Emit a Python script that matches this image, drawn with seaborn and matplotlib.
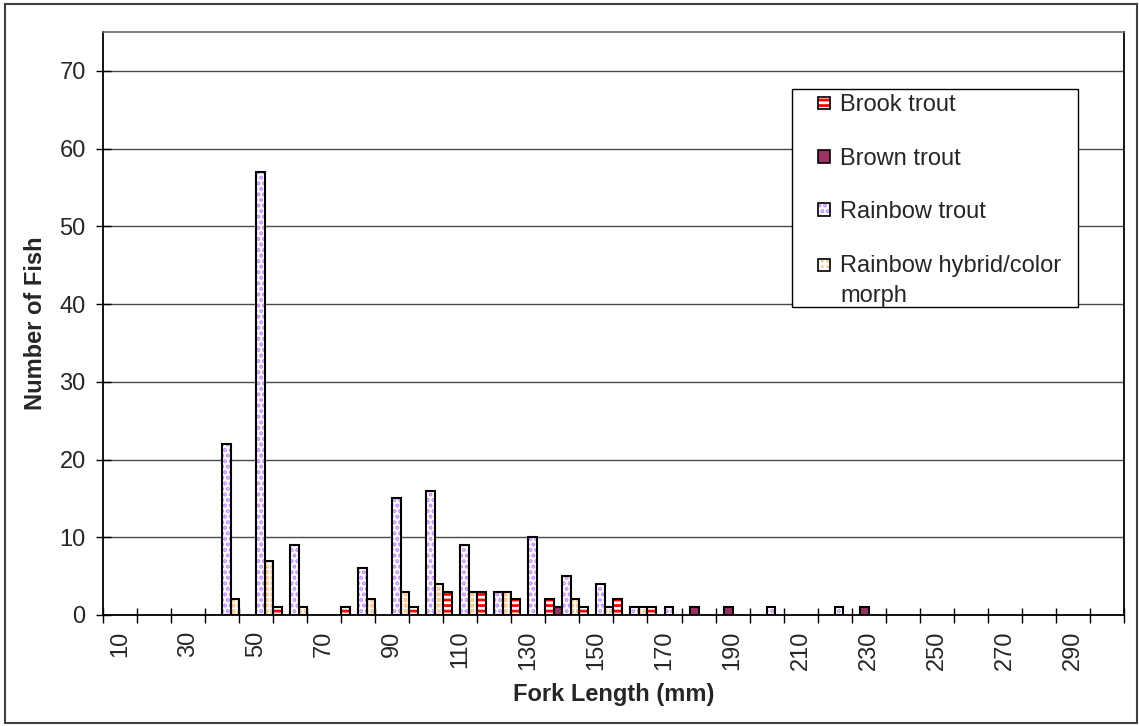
import numpy as np
import pandas as pd
import matplotlib
matplotlib.use("Agg")
import matplotlib.pyplot as plt
import seaborn as sns
from matplotlib.patches import Patch, Rectangle
from matplotlib.legend_handler import HandlerTuple

# fork length classes (mm), 10 .. 300
lengths = [10, 20, 30, 40, 50, 60, 70, 80, 90, 100, 110, 120, 130, 140, 150,
           160, 170, 180, 190, 200, 210, 220, 230, 240, 250, 260, 270, 280, 290, 300]
brook   = [0, 0, 0, 0, 0, 1, 0, 1, 0, 1, 3, 3, 2, 2, 1, 2, 1, 0, 0, 0, 0, 0, 0, 0, 0, 0, 0, 0, 0, 0]
brown   = [0, 0, 0, 0, 0, 0, 0, 0, 0, 0, 0, 0, 0, 1, 0, 0, 0, 1, 1, 0, 0, 0, 1, 0, 0, 0, 0, 0, 0, 0]
rainbow = [0, 0, 0, 22, 57, 9, 0, 6, 15, 16, 9, 3, 10, 5, 4, 1, 1, 0, 0, 1, 0, 1, 0, 0, 0, 0, 0, 0, 0, 0]
hybrid  = [0, 0, 0, 2, 7, 1, 0, 2, 3, 4, 3, 3, 0, 2, 1, 1, 0, 0, 0, 0, 0, 0, 0, 0, 0, 0, 0, 0, 0, 0]
species = ["Brook trout", "Brown trout", "Rainbow trout", "Rainbow hybrid/color\nmorph"]
shown_labels = [10, 30, 50, 70, 90, 110, 130, 150, 170, 190, 210, 230, 250, 270, 290]

# look of each series (fill, hatch, hatch colour, hatch width)
fills   = ["#FF0000", "#993366", "white", "#FFCC99"]
hatches = ["---", None, "...", "+++"]
hcolors = ["white", "#993366", "#C28CFF", "white"]
hwidths = [2.0, 1.0, 2.0, 1.1]

df = pd.DataFrame({
    "length": [str(v) for v in lengths] * 4,
    "count": brook + brown + rainbow + hybrid,
    "species": np.repeat(species, len(lengths)),
})
df = df[df["count"] > 0]
order = [str(v) for v in lengths]

sns.set_style("white")
plt.rcParams['font.family'] = ['Liberation Sans', 'DejaVu Sans']
plt.rcParams['hatch.linewidth'] = 2.0


def style_patch(p, h, hc, hw):
    p.set_hatch(h)
    p.set_edgecolor(hc)
    p.set_linewidth(0)
    if hasattr(p, "set_hatch_linewidth"):
        p.set_hatch_linewidth(hw)


class RaisedTuple(HandlerTuple):
    # put the handle next to the first line of a two-line label
    def create_artists(self, legend, orig_handle, xdescent, ydescent,
                       width, height, fontsize, trans):
        return super().create_artists(legend, orig_handle, xdescent, ydescent - 11.5,
                                      width, height, fontsize, trans)


fig = plt.figure(figsize=(11.39, 7.26), dpi=100)
ax = fig.add_axes([0.0904, 0.1529, 0.8964, 0.8030])

# filled + hatched bars
sns.barplot(data=df, x="length", y="count", hue="species", order=order,
            hue_order=species, palette=fills, width=1.0, saturation=1,
            errorbar=None, linewidth=0, legend=False, ax=ax)
for cont, h, hc, hw in zip(ax.containers, hatches, hcolors, hwidths):
    for bar in cont:
        style_patch(bar, h, hc, hw)
# black outlines
sns.barplot(data=df, x="length", y="count", hue="species", order=order,
            hue_order=species, palette=["black"] * 4, width=1.0, fill=False,
            errorbar=None, linewidth=1.5, legend=False, ax=ax)

ax.set_xlim(-0.5, len(lengths) - 0.5)
ax.set_ylim(0, 75)

# ticks between categories, labels on every other class
ax.set_xticks(np.arange(len(lengths) + 1) - 0.5, labels=[""] * (len(lengths) + 1))
ax.set_xticks([order.index(str(v)) for v in shown_labels],
              labels=[str(v) for v in shown_labels], minor=True)
ax.tick_params(axis="x", which="major", direction="inout", length=10.8, width=1, color="black", bottom=True)
ax.tick_params(axis="x", which="minor", length=0, pad=11, labelsize=17, labelrotation=90, bottom=True)
ax.set_yticks(range(0, 71, 10))
ax.tick_params(axis="y", direction="inout", length=10.8, width=1, color="black", labelsize=17, pad=7, left=True)

ax.yaxis.grid(True, color="#4a4a4a", lw=1)
ax.set_axisbelow(True)
for s in ["left", "bottom", "right"]:
    ax.spines[s].set_color("black")
    ax.spines[s].set_linewidth(1.3)
ax.spines["top"].set_color("#6a6a6a")
ax.spines["top"].set_linewidth(1.2)

ax.set_xlabel("Fork Length (mm)", fontsize=17, fontweight="bold")
ax.set_ylabel("Number of Fish", fontsize=17, fontweight="bold")
ax.xaxis.set_label_coords(0.5, -0.117)
ax.yaxis.set_label_coords(-0.0548, 0.5)

# legend box
ax.add_patch(Rectangle((0.6748, 0.5283), 0.2802, 0.3739, transform=ax.transAxes,
                       facecolor="white", edgecolor="black", lw=1, zorder=4))
handles = []
for f, h, hc, hw in zip(fills, hatches, hcolors, hwidths):
    fill_p = Patch(facecolor=f)
    style_patch(fill_p, h, hc, hw)
    handles.append((fill_p, Patch(facecolor="none", edgecolor="black", linewidth=1.2)))
hmap = {tuple: HandlerTuple(ndivide=1, pad=0),
        handles[3]: RaisedTuple(ndivide=1, pad=0)}
leg = ax.legend(handles, species, handler_map=hmap,
                loc="upper left", bbox_to_anchor=(0.7003, 0.893), frameon=False,
                borderpad=0, borderaxespad=0, fontsize=17, handlelength=0.5,
                handleheight=0.45, handletextpad=0.45, labelspacing=1.33)
for t in leg.get_texts():
    t.set_linespacing(1.5)
leg.set_zorder(5)

# chart area border
fig.patches.append(Rectangle((4.5 / 1139, 3 / 726), 1132.5 / 1139, 719 / 726,
                             transform=fig.transFigure, fill=False,
                             edgecolor="#404040", lw=1.5))

plt.savefig("out.png", dpi=100)
plt.close()
